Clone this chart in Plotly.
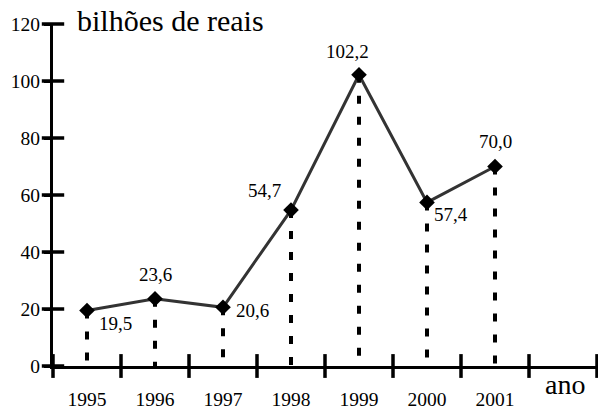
import plotly.graph_objects as go

years = [1995, 1996, 1997, 1998, 1999, 2000, 2001]
values = [19.5, 23.6, 20.6, 54.7, 102.2, 57.4, 70.0]
value_labels = ["19,5", "23,6", "20,6", "54,7", "102,2", "57,4", "70,0"]
y_ticks = [0, 20, 40, 60, 80, 100, 120]
title_text = "bilhões de reais"
x_title = "ano"

FONT = "'Liberation Serif', 'Times New Roman', serif"
x_range = [years[0] - 0.5, years[-1] + 1.5]
boundaries = [years[0] - 0.5 + i for i in range(len(years) + 2)]

fig = go.Figure()

# dotted drop lines
for yr, v in zip(years, values):
    fig.add_trace(go.Scatter(
        x=[yr, yr], y=[v, 0], mode="lines",
        line=dict(color="black", width=4, dash="8px,13px"),
        hoverinfo="skip", showlegend=False))

# main line
fig.add_trace(go.Scatter(
    x=years, y=values, mode="lines+markers",
    line=dict(color="#333333", width=3),
    marker=dict(symbol="diamond", size=12, color="black"),
    showlegend=False))

# crossing tick marks on both axes
fig.add_trace(go.Scatter(
    x=boundaries, y=[0] * len(boundaries), mode="markers",
    marker=dict(symbol="line-ns", size=17, line=dict(width=3.5, color="black")),
    cliponaxis=False, hoverinfo="skip", showlegend=False))
fig.add_trace(go.Scatter(
    x=[x_range[0]] * len(y_ticks), y=y_ticks, mode="markers",
    marker=dict(symbol="line-ew", size=16, line=dict(width=3.5, color="black")),
    cliponaxis=False, hoverinfo="skip", showlegend=False))

# label placement (xanchor, xshift, yshift)
placements = [
    ("left", 10, -13),
    ("center", 0, 24),
    ("left", 11, -3),
    ("right", -8, 20),
    ("center", -12, 23),
    ("left", 5, -12),
    ("center", 0, 25),
]
for yr, v, t, (xa, xs, ys) in zip(years, values, value_labels, placements):
    fig.add_annotation(x=yr, y=v, text=t, showarrow=False, xanchor=xa,
                       yanchor="middle", xshift=xs, yshift=ys,
                       font=dict(family=FONT, size=19, color="black"))

fig.add_annotation(xref="paper", yref="paper", x=0, y=1, xanchor="left",
                   yanchor="middle", xshift=22, yshift=4, text=title_text,
                   showarrow=False, font=dict(family=FONT, size=30, color="black"))
fig.add_annotation(xref="paper", yref="paper", x=1, y=0, xanchor="right",
                   yanchor="middle", xshift=-10, yshift=-18, text=x_title,
                   showarrow=False, font=dict(family=FONT, size=28, color="black"))

fig.update_layout(
    width=598, height=409,
    margin=dict(l=53, r=1, t=24, b=43, autoexpand=False),
    paper_bgcolor="white", plot_bgcolor="white",
    font=dict(family=FONT, size=19, color="black"),
    xaxis=dict(range=x_range, tickmode="array", tickvals=years,
               ticktext=[str(y) for y in years], ticks="",
               showline=True, linecolor="black", linewidth=3,
               showgrid=False, zeroline=False, ticklabelstandoff=14,
               tickfont=dict(family=FONT, size=19.5)),
    yaxis=dict(range=[0, 120], tickmode="array", tickvals=y_ticks,
               ticks="outside", ticklen=6, tickwidth=3, tickcolor="black",
               showline=True, linecolor="black", linewidth=3,
               showgrid=False, zeroline=False, ticklabelstandoff=0,
               tickfont=dict(family=FONT, size=19.5)),
)

fig.write_html("out.html", post_script="document.body.style.margin='0';",
               config={"displayModeBar": False})
